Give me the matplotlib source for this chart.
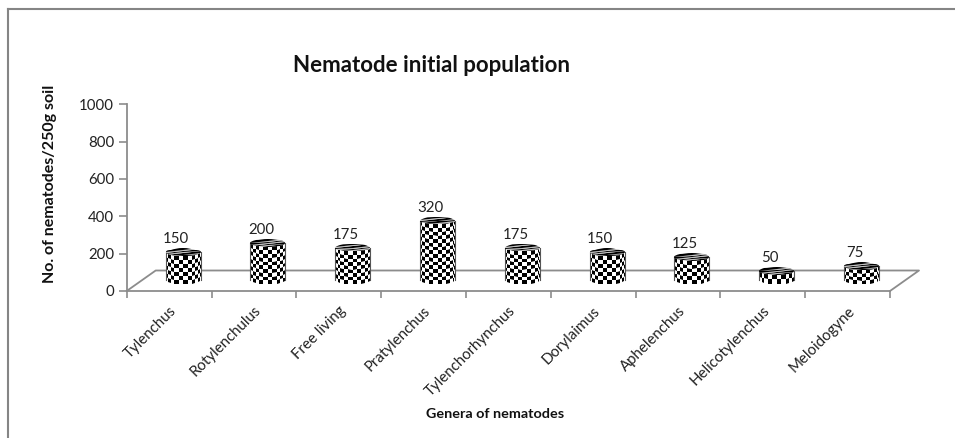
import numpy as np
import matplotlib
matplotlib.use('Agg')
import matplotlib.pyplot as plt
from matplotlib.lines import Line2D
from matplotlib.patches import Ellipse

plt.rcParams['font.family'] = ['Lato', 'DejaVu Sans']

genera = ['Tylenchus', 'Rotylenchulus', 'Free living', 'Pratylenchus', 'Tylenchorhynchus',
          'Dorylaimus', 'Aphelenchus', 'Helicotylenchus', 'Meloidogyne']
population = [150, 200, 175, 320, 175, 150, 125, 50, 75]
y_ticks = [0, 200, 400, 600, 800, 1000]

W, H = 955, 438
GREY = '#8c8c8c'
TEXT = '#222222'

fig = plt.figure(figsize=(W / 100, H / 100), dpi=100)
left, right, top, bottom = 126.7, 890.0, 104.3, 291.0
ax = fig.add_axes([left / W, 1 - bottom / H, (right - left) / W, (bottom - top) / H])
ax.set_xlim(-0.5, 8.5)
ax.set_ylim(0, 1000)

# px -> data units
ux = 9 / (right - left)
uy = 1000 / (bottom - top)

# picture frame, open on the right and at the bottom
fig.add_artist(Line2D([8 / W, 8 / W], [0, 1 - 8.5 / H], color='#858585', lw=1.5))
fig.add_artist(Line2D([8 / W, 1], [1 - 8.5 / H, 1 - 8.5 / H], color='#858585', lw=1.5))

# floor of the 3d box
depth_x = 29 * ux
depth_y = 20.5 * uy
ax.plot([-0.5, -0.5 + depth_x, 8.5 + depth_x, 8.5], [0, depth_y, depth_y, 0],
        color=GREY, lw=1.3, clip_on=False, zorder=1)

for s in ['top', 'right']:
    ax.spines[s].set_visible(False)
for s in ['left', 'bottom']:
    ax.spines[s].set_color(GREY)
    ax.spines[s].set_linewidth(1.3)

ax.set_yticks(y_ticks)
ax.tick_params(axis='y', length=6, width=1.2, color=GREY, labelsize=10.8, labelcolor=TEXT, pad=3)
ax.set_xticks(np.arange(-0.5, 9, 1))
ax.set_xticklabels([])
ax.tick_params(axis='x', which='major', length=5, width=1.2, color=GREY)
ax.set_xticks(np.arange(9), minor=True)
ax.set_xticklabels(genera, minor=True, rotation=45, ha='right', va='top',
                   rotation_mode='anchor', fontsize=10.8, color=TEXT)
ax.tick_params(axis='x', which='minor', length=0, pad=9)


def cylinder(cx, base, value):
    r = 17.5 * ux
    e = 3.8 * uy
    # white backing so the floor line does not show through the light squares
    theta = np.linspace(-np.pi / 2, np.pi / 2, 41)
    xf = cx + r * np.sin(theta)
    ax.fill_between(xf, base - e * np.cos(theta), base + value, color='white', lw=0, zorder=2)
    # side: checker squares squeezed towards the edges
    theta = np.linspace(-np.pi / 2, np.pi / 2, 13)
    rows = max(2, int(round(value / uy / 3.8)))
    t = np.linspace(0, 1, rows + 1)
    T, R = np.meshgrid(theta, t)
    X = cx + r * np.sin(T)
    Y = base + R * value - e * np.cos(T)
    C = (np.indices((rows, 12)).sum(axis=0) % 2).astype(float)
    ax.pcolormesh(X, Y, C, cmap='gray', vmin=0, vmax=1, zorder=3, antialiased=True)
    # thin edge of the side
    ax.plot([cx - r, cx - r], [base, base + value], color='#555555', lw=0.8, zorder=3)
    ax.plot([cx + r, cx + r], [base, base + value], color='#555555', lw=0.8, zorder=3)
    # top: dark ellipse with light slanted stripes
    xs = np.linspace(cx - r, cx + r, 3)
    ys = np.array([-7, -3.2, -2.4, -0.9, -0.1, 1.4, 2.2, 7]) * uy
    XT, YT = np.meshgrid(xs, ys)
    YT = base + value + YT + (XT - cx) * 0.1 * uy / ux
    CT = (np.arange(7) % 2 * 0.75).reshape(-1, 1) * np.ones((7, 2))
    mesh = ax.pcolormesh(XT, YT, CT, cmap='gray', vmin=0, vmax=1, zorder=4, antialiased=True)
    clip = Ellipse((cx, base + value), 2 * r, 2 * e, transform=ax.transData)
    mesh.set_clip_path(clip)


offset_x = 14 * ux
offset_y = 10.7 * uy
for i, v in enumerate(population):
    cylinder(i + offset_x, offset_y, v)
    ax.text(i + offset_x - 7 * ux, offset_y + v + 13 * uy, str(v), ha='center', va='center',
            fontsize=10.8, color=TEXT, zorder=5)

fig.text(431 / W, 1 - 66 / H, 'Nematode initial population', ha='center', va='center',
         fontsize=16, fontweight='bold', color='#111111')
fig.text(50 / W, 1 - 184 / H, 'No. of nematodes/250g soil', rotation=90, ha='center', va='center',
         fontsize=11.5, fontweight='bold', color='#111111')
fig.text(495 / W, 1 - 414 / H, 'Genera of nematodes', ha='center', va='center',
         fontsize=10.4, fontweight='bold', color='#111111')

fig.savefig('out.png', dpi=100)
